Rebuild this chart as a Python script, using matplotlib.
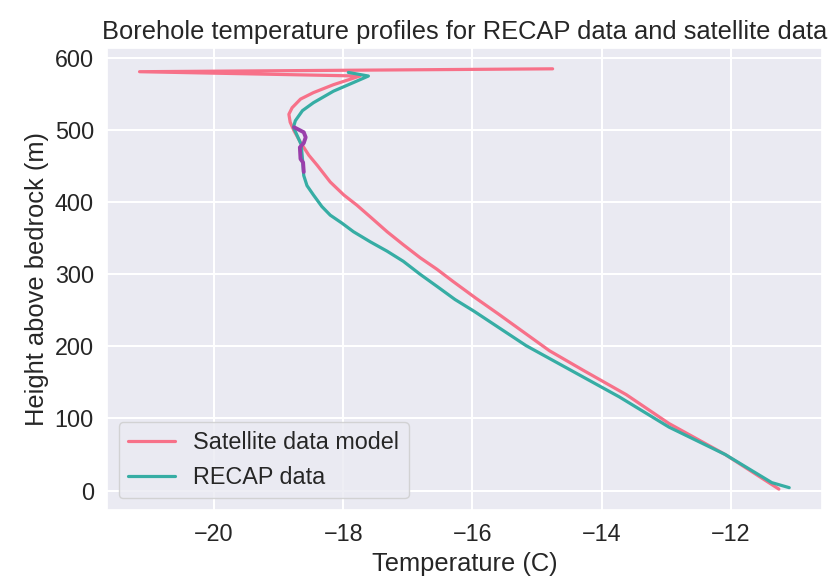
#!/usr/bin/env python3
"""
Borehole temperature profiles: satellite-driven model vs RECAP measurements.
"""

import matplotlib
matplotlib.use("Agg")
import matplotlib.pyplot as plt
import seaborn as sns

# Satellite data model profile (temperature in C, height above bedrock in m)
sat_temp = [-14.76, -21.15, -17.74, -18.15, -18.46, -18.66, -18.79, -18.84,
            -18.82, -18.76, -18.66, -18.53, -18.40, -18.20, -17.99, -17.79,
            -17.56, -17.32, -17.07, -16.81, -16.55, -16.30, -15.95, -15.60,
            -14.81, -14.29, -13.62, -12.96, -12.09, -11.26]
sat_height = [585, 581, 575, 563, 552, 543, 531, 522,
              511, 499, 483, 465, 451, 428, 410, 396,
              378, 359, 341, 323, 307, 290, 267, 245,
              194, 167, 133, 93, 50, 2]

# RECAP borehole data
recap_temp = [-17.92, -17.61, -17.84, -18.15, -18.46, -18.63, -18.74, -18.77,
              -18.65, -18.62, -18.61, -18.56, -18.46, -18.33, -18.20, -18.02,
              -17.84, -17.58, -17.32, -17.07, -16.81, -16.53, -16.27, -15.98,
              -15.17, -13.73, -12.96, -12.09, -11.37, -11.10]
recap_height = [580, 575, 566, 554, 538, 527, 513, 504,
                480, 450, 437, 423, 410, 394, 382, 371,
                359, 345, 332, 318, 300, 282, 265, 249,
                201, 130, 88, 50, 11, 4]

# Short measured segment highlighted on top (no legend entry)
seg_temp = [-18.76, -18.61, -18.58, -18.61, -18.67, -18.66, -18.62, -18.61]
seg_height = [504, 497, 490, 482, 476, 460, 455, 442]

TITLE = "Borehole temperature profiles for RECAP data and satellite data"


def main():
    sns.set_theme(style="darkgrid")
    plt.rcParams["font.family"] = ["Liberation Sans", "DejaVu Sans"]
    plt.rcParams["grid.linewidth"] = 1.5

    colors = sns.color_palette("husl", 2)

    fig, ax = plt.subplots(figsize=(8.3, 5.83), dpi=100)
    fig.subplots_adjust(left=0.129, right=0.990, bottom=0.125, top=0.918)

    ax.plot(sat_temp, sat_height, color=colors[0], linewidth=2.3,
            label="Satellite data model")
    ax.plot(recap_temp, recap_height, color=colors[1], linewidth=2.3,
            label="RECAP data")
    ax.plot(seg_temp, seg_height, color="#9a3fab", linewidth=2.8)

    ax.set_title(TITLE, fontsize=18.4)
    ax.set_xlabel("Temperature (C)", fontsize=18.4)
    ax.set_ylabel("Height above bedrock (m)", fontsize=18.4)
    ax.set_yticks([0, 100, 200, 300, 400, 500, 600])
    ax.tick_params(labelsize=16.8)
    ax.legend(loc="lower left", fontsize=16.8)

    fig.savefig("out.png", dpi=100)
    plt.close(fig)


if __name__ == "__main__":
    main()
